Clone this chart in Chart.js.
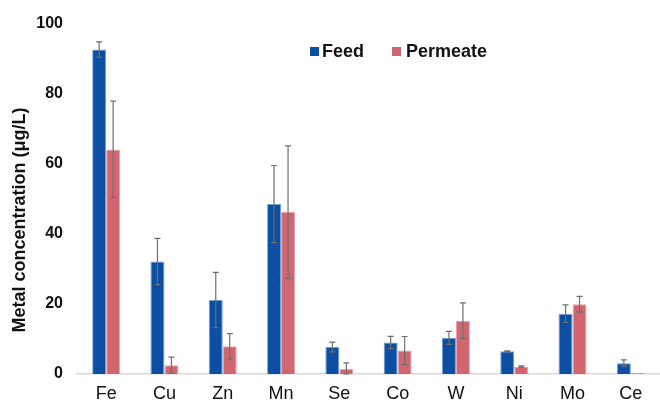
<!DOCTYPE html>
<html>
<head>
<meta charset="utf-8">
<script src="https://cdn.jsdelivr.net/npm/chart.js@4/dist/chart.umd.min.js"></script>
<style>
  html, body { margin: 0; padding: 0; background: #fff; overflow: hidden; }
  #wrap { width: 660px; height: 405px; }
</style>
</head>
<body>
<div id="wrap"><canvas id="grafico"></canvas></div>
<script>
const metales = ['Fe', 'Cu', 'Zn', 'Mn', 'Se', 'Co', 'W', 'Ni', 'Mo', 'Ce'];
const feed = [92.6, 32.1, 21.1, 48.5, 7.7, 9.0, 10.3, 6.5, 17.2, 3.1];
const feedErr = [2.2, 6.6, 7.9, 11.0, 1.4, 1.75, 1.85, 0.1, 2.5, 0.95];
const permeate = [64.1, 2.5, 7.9, 46.2, 1.4, 6.7, 15.2, 2.1, 19.9, 0.3];
const permeateErr = [13.8, 2.3, 3.6, 18.9, 1.8, 4.0, 5.1, 0.2, 2.25, 0];
const yTicks = [0, 20, 40, 60, 80, 100];

const fuente = "'Liberation Sans', Arial, sans-serif";

// barras de error dibujadas con las escalas del grafico
const errorBars = {
    id: 'errorBars',
    afterDatasetsDraw(chart) {
        const ctx = chart.ctx;
        const y = chart.scales.y;
        const errores = [feedErr, permeateErr];
        ctx.save();
        ctx.strokeStyle = '#6f6f6f';
        ctx.lineWidth = 1.2;
        chart.data.datasets.forEach((ds, i) => {
            const meta = chart.getDatasetMeta(i);
            meta.data.forEach((bar, j) => {
                const e = errores[i][j];
                if (!e) return;
                const v = ds.data[j];
                const top = y.getPixelForValue(v + e);
                const bot = y.getPixelForValue(Math.max(v - e, 0));
                ctx.beginPath();
                ctx.moveTo(bar.x, top);
                ctx.lineTo(bar.x, bot);
                ctx.moveTo(bar.x - 3, top);
                ctx.lineTo(bar.x + 3, top);
                ctx.moveTo(bar.x - 3, bot);
                ctx.lineTo(bar.x + 3, bot);
                ctx.stroke();
            });
        });
        ctx.restore();
    }
};

// leyenda y titulo del eje y
const textos = {
    id: 'textos',
    afterDraw(chart) {
        const ctx = chart.ctx;
        ctx.save();
        ctx.font = 'bold 18px ' + fuente;
        ctx.textBaseline = 'middle';
        ctx.fillStyle = '#0B4EA2';
        ctx.fillRect(310, 47, 9, 9);
        ctx.fillStyle = '#111';
        ctx.fillText('Feed', 322, 52);
        ctx.fillStyle = '#D0666F';
        ctx.fillRect(392, 47, 9, 9);
        ctx.fillStyle = '#111';
        ctx.fillText('Permeate', 406, 52);

        ctx.translate(20, 220);
        ctx.rotate(-Math.PI / 2);
        ctx.textAlign = 'center';
        ctx.fillText('Metal concentration (μg/L)', 0, 0);
        ctx.restore();
    }
};

new Chart(document.getElementById('grafico'), {
    type: 'bar',
    data: {
        labels: metales,
        datasets: [
            {
                label: 'Feed',
                data: feed,
                backgroundColor: '#0B4EA2',
                borderColor: '#6f9fd6',
                borderWidth: 1,
                categoryPercentage: 0.48,
                barPercentage: 1
            },
            {
                label: 'Permeate',
                data: permeate,
                backgroundColor: '#D0666F',
                borderColor: '#eaa3a9',
                borderWidth: 1,
                categoryPercentage: 0.48,
                barPercentage: 1
            }
        ]
    },
    options: {
        responsive: true,
        maintainAspectRatio: false,
        animation: false,
        layout: { padding: { top: 21, left: 0, right: 0, bottom: 0 } },
        plugins: {
            legend: { display: false },
            tooltip: { enabled: false }
        },
        scales: {
            x: {
                grid: { display: false, drawTicks: false },
                border: { display: true, color: '#d9d9d9', width: 1.5 },
                ticks: { color: '#111', font: { family: fuente, size: 18 }, padding: 9 },
                afterFit(scale) { scale.height = 31; }
            },
            y: {
                min: 0,
                max: 100,
                grid: { display: false, drawTicks: false },
                border: { display: false },
                afterBuildTicks(scale) { scale.ticks = yTicks.map(v => ({ value: v })); },
                ticks: { color: '#111', font: { family: fuente, size: 16, weight: 'bold' }, padding: 14 },
                afterFit(scale) { scale.width = 77; }
            }
        }
    },
    plugins: [errorBars, textos]
});
</script>
</body>
</html>
